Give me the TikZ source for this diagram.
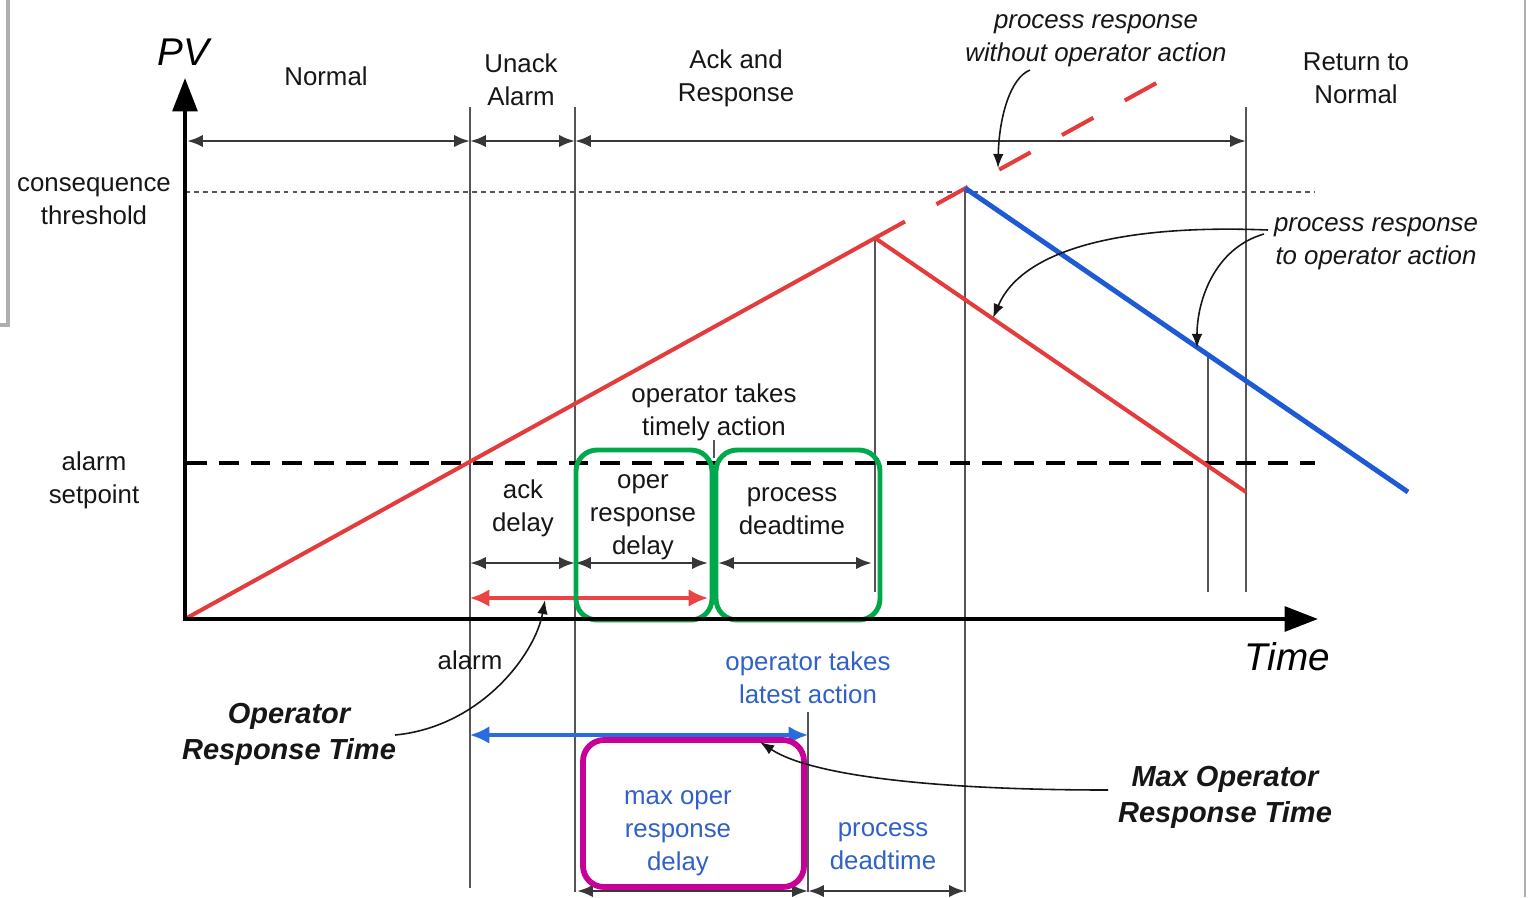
\documentclass[tikz,border=0pt]{standalone}
\usepackage{fontspec}
\setmainfont{Liberation Sans}
\usetikzlibrary{arrows.meta}

\definecolor{ink}{RGB}{22,22,22}
\definecolor{guidegray}{RGB}{85,85,85}
\definecolor{dimgray}{RGB}{55,55,55}
\definecolor{pvred}{RGB}{228,60,60}
\definecolor{pvblue}{RGB}{30,90,212}
\definecolor{arrowred}{RGB}{236,68,68}
\definecolor{arrowblue}{RGB}{40,108,222}
\definecolor{bluetext}{RGB}{48,96,200}
\definecolor{focusgreen}{RGB}{0,168,76}
\definecolor{focusmagenta}{RGB}{200,0,152}
\definecolor{framegray}{RGB}{175,175,175}

\begin{document}
\begin{tikzpicture}[x=0.02cm,y=-0.02cm,
  txt/.style={font=\fontsize{14.7}{18.7}\selectfont, align=center, inner sep=0pt, text=ink},
  itxt/.style={txt, font=\fontsize{14.7}{18.7}\selectfont\itshape},
  btxt/.style={txt, font=\fontsize{16.5}{20.5}\selectfont\bfseries\itshape},
  bigtxt/.style={txt, font=\fontsize{22}{24}\selectfont\itshape, text=black},
  bluetxt/.style={txt, text=bluetext},
  axis/.style={line width=2.4pt, draw=black, -{Triangle[length=19pt,width=14pt]}},
  guide/.style={line width=1.1pt, draw=guidegray},
  dim/.style={line width=1.5pt, draw=dimgray, {Latex[length=9pt,width=7pt]}-{Latex[length=9pt,width=7pt]}},
  reddim/.style={line width=1.8pt, draw=arrowred, {Latex[length=11pt,width=10pt]}-{Latex[length=11pt,width=10pt]}},
  bluedim/.style={line width=1.8pt, draw=arrowblue, {Latex[length=11pt,width=10pt]}-{Latex[length=11pt,width=10pt]}},
  callout/.style={line width=0.9pt, draw=ink, -{Latex[length=8pt,width=6pt]}},
  pvline/.style={line width=2.3pt, draw=pvred},
  actline/.style={line width=2.8pt, draw=pvblue},
  focus/.style={line width=2.8pt, rounded corners=12pt},
  setpoint/.style={line width=2.8pt, draw=black, dash pattern=on 11.3pt off 6.8pt},
  threshold/.style={line width=1.1pt, draw=guidegray, dash pattern=on 2.8pt off 2.3pt},
]
\useasboundingbox (0,0) rectangle (1529,897);

% page frame edges
\draw[framegray, line width=2pt] (8,0) -- (8,325) -- (0,325);
\draw[framegray, line width=1.2pt] (1525,0) -- (1525,897);

% key points of the process variable traces
\coordinate (O) at (185,619);
\coordinate (Ytop) at (185,78);
\coordinate (Xend) at (1318,619);
\coordinate (pk1) at (875,238);
\coordinate (pk2) at (965,188);
\coordinate (redEnd) at (1246,492);
\coordinate (blueEnd) at (1408,492);
\coordinate (redSolidEnd) at (905,221.5);
\coordinate (redDashEnd) at (1157,82.7);
\coordinate (blueAt1208) at (1208,355);

% phase boundaries
\draw[guide] (470,107) -- (470,888);
\draw[guide] (575,107) -- (575,892);
\draw[guide] (pk1) -- (875,592);
\draw[guide] (pk2) -- (965,892);
\draw[guide] (blueAt1208) -- (1208,592);
\draw[guide] (1246,107) -- (1246,592);
\draw[guide] (808,712) -- (808,892);
\draw[guide, line width=0.8pt] (714,440) -- (714,458);

% threshold and setpoint levels
\draw[threshold] (185,192) -- (1315,192);
\draw[setpoint] (187,463) -- (1315,463);

% process variable traces
\draw[pvline] (O) -- (redSolidEnd);
\draw[pvline, dash pattern=on 20.4pt off 20.4pt, dash phase=20.4pt] (redSolidEnd) -- (redDashEnd);
\draw[pvline] (pk1) -- (redEnd);
\draw[actline] (pk2) -- (blueEnd);

% phase dimension arrows
\draw[dim] (187,141) -- (470,141);
\draw[dim] (470,141) -- (575,141);
\draw[dim] (575,141) -- (1246,141);

% delay dimension arrows
\draw[dim] (470,563) -- (575,563);
\draw[dim] (575,563) -- (708,563);
\draw[dim] (718,563) -- (872,563);
\draw[reddim] (470,598) -- (708,598);
\draw[bluedim] (470,735) -- (808,735);
\draw[dim] (577,891) -- (808,891);
\draw[dim] (808,891) -- (965,891);

% highlight boxes
\draw[focus, draw=focusgreen] (576,450) rectangle (712,620);
\draw[focus, draw=focusgreen] (716,450) rectangle (880,620);
\draw[focus, line width=3.3pt, draw=focusmagenta] (583,740) rectangle (804,887);

% axes
\draw[axis] (O) -- (Ytop);
\draw[axis] ([xshift=-1.2pt]O) -- (Xend);

% labels
\node[bigtxt] (pv) at (183,52) {PV};
\node[bigtxt] (time) at (1287,657) {Time};
\node[txt] (normal) at (326,76) {Normal};
\node[txt] (unack) at (521,80) {Unack\\Alarm};
\node[txt] (ackresp) at (736,78) {Ack and\\Response};
\node[itxt] (without) at (1096,41) {process response\\without operator action};
\node[txt] (ret) at (1356,78) {Return to\\Normal};
\node[txt] (conseq) at (94,201) {consequence\\threshold};
\node[itxt] (toaction) at (1376,244) {process response\\to operator action};
\node[txt] (timely) at (714,412) {operator takes\\timely action};
\node[txt] (setpt) at (94,480) {alarm\\setpoint};
\node[txt] (ackdelay) at (523,508) {ack\\delay};
\node[txt] (operdelay) at (643,517) {oper\\response\\delay};
\node[txt] (deadtime) at (792,511) {process\\deadtime};
\node[txt] (alarm) at (470,660) {alarm};
\node[bluetxt] (latest) at (808,678) {operator takes\\latest action};
\node[btxt] (ort) at (289,734) {Operator\\Response Time};
\node[btxt] (mort) at (1225,797) {Max Operator\\Response Time};
\node[bluetxt] (maxdelay) at (678,833) {max oper\\response\\delay};
\node[bluetxt] (maxdead) at (883,846) {process\\deadtime};

% callout leaders
\coordinate (withoutTip) at (998,168);
\coordinate (toRedTip) at (993,318);
\coordinate (toBlueTip) at (1197,348);
\coordinate (ortTip) at (545,600);
\coordinate (mortTip) at (760,742);
\draw[callout] (1030,70) .. controls (1010,78) and (999,118) .. (withoutTip);
\draw[callout] (1268,230) .. controls (1120,224) and (1022,250) .. (toRedTip);
\draw[callout] (1264,234) .. controls (1215,248) and (1197,300) .. (toBlueTip);
\draw[callout] (395,735) .. controls (480,727) and (535,655) .. (ortTip);
\draw[callout] (1108,790) .. controls (930,790) and (810,775) .. (mortTip);
\end{tikzpicture}
\end{document}
